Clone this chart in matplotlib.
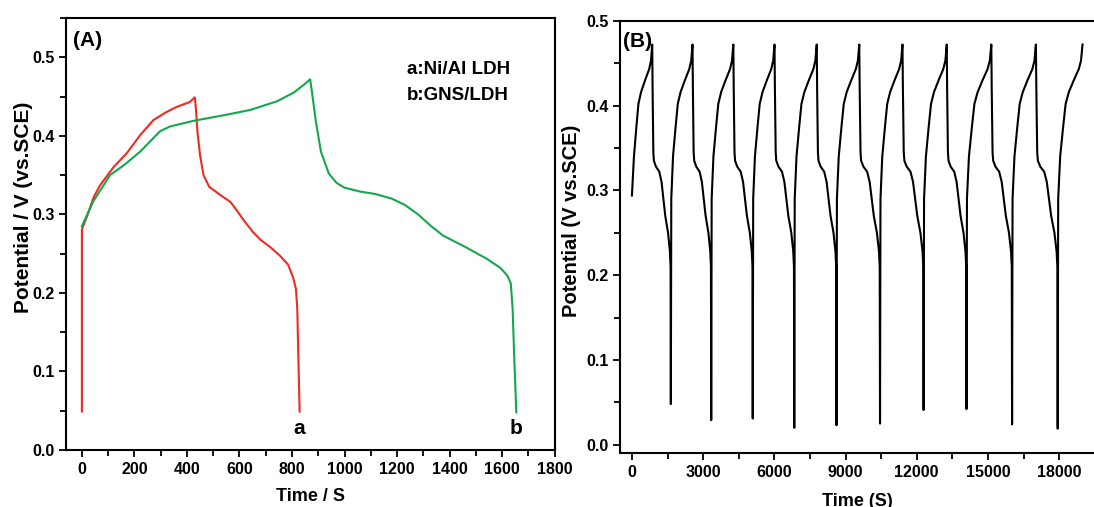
import matplotlib
matplotlib.use("Agg")
import matplotlib.pyplot as plt
from matplotlib.ticker import MultipleLocator

plt.rcParams["font.family"] = ["Liberation Sans", "DejaVu Sans"]
plt.rcParams["font.weight"] = "bold"

# ---- panel A: charge/discharge curves (time s, potential V) ----
red_t = [0, 0, 20, 45, 69, 120, 171, 222, 272, 320, 362, 410, 430, 434, 440,
         450, 463, 485, 530, 565, 590, 615, 650, 679, 722, 755, 785, 804, 815,
         820, 824, 829]
red_v = [0.049, 0.281, 0.298, 0.322, 0.337, 0.360, 0.378, 0.401, 0.420, 0.430,
         0.437, 0.443, 0.449, 0.435, 0.405, 0.375, 0.350, 0.335, 0.324, 0.316,
         0.305, 0.293, 0.278, 0.268, 0.257, 0.247, 0.236, 0.220, 0.205, 0.180,
         0.120, 0.049]

green_t = [0, 44, 107, 165, 222, 260, 298, 336, 423, 552, 641, 743, 806, 845,
           869, 875, 890, 910, 940, 970, 1000, 1060, 1117, 1180, 1230, 1280,
           1330, 1375, 1457, 1539, 1593, 1620, 1633, 1640, 1645, 1654]
green_v = [0.285, 0.317, 0.350, 0.364, 0.380, 0.393, 0.406, 0.412, 0.419, 0.427,
           0.433, 0.444, 0.455, 0.465, 0.472, 0.458, 0.420, 0.380, 0.352, 0.340,
           0.334, 0.329, 0.326, 0.320, 0.312, 0.300, 0.285, 0.273, 0.259, 0.244,
           0.232, 0.222, 0.212, 0.180, 0.128, 0.048]

legend_lines = ["a:Ni/Al LDH", "b:GNS/LDH"]

# ---- panel B: cycling, read per cycle ----
cycle_start = [0, 1640, 3341, 5091, 6840, 8618, 10454, 12290, 14096, 16018, 17940]
cycle_peak = [855, 2553, 4273, 6008, 7787, 9579, 11400, 13265, 15143, 17022, 18986]
cycle_min_v = [0.048, 0.029, 0.031, 0.020, 0.023, 0.025, 0.041, 0.042, 0.024, 0.019]
first_v = 0.294

# shape of one charge (fraction of charge time, V) and discharge, read from cycles 1-3
charge_u = [0.02, 0.10, 0.22, 0.32, 0.45, 0.65, 0.85, 0.94, 1.0]
charge_v = [0.290, 0.340, 0.375, 0.402, 0.416, 0.430, 0.443, 0.453, 0.472]
dis_u = [0.02, 0.06, 0.09, 0.20, 0.38, 0.50, 0.60, 0.70, 0.85, 0.95, 0.985]
dis_v = [0.420, 0.345, 0.335, 0.328, 0.322, 0.310, 0.290, 0.270, 0.250, 0.228, 0.210]


def build_cycles():
    ts, vs = [cycle_start[0]], [first_v]
    for i, (t0, tp) in enumerate(zip(cycle_start, cycle_peak)):
        for u, v in zip(charge_u, charge_v):
            if i == 0 and v < first_v:
                continue
            ts.append(t0 + u * (tp - t0))
            vs.append(v)
        if i + 1 < len(cycle_start):
            t1 = cycle_start[i + 1]
            for u, v in zip(dis_u, dis_v):
                ts.append(tp + u * (t1 - tp))
                vs.append(v)
            ts.append(t1)
            vs.append(cycle_min_v[i])
    return ts, vs


def style_axes(ax):
    for side in ["left", "bottom", "top", "right"]:
        ax.spines[side].set_linewidth(1.5)
    ax.tick_params(which="both", direction="out", width=1.3, labelsize=11.5,
                   top=False, right=False)
    ax.tick_params(which="major", length=5)
    ax.tick_params(which="minor", length=4)
    for lab in ax.get_xticklabels() + ax.get_yticklabels():
        lab.set_fontweight("bold")


fig = plt.figure(figsize=(10.94, 5.07), dpi=100)

ax_a = fig.add_axes([0.0607, 0.1124, 0.4463, 0.852])
ax_a.plot(red_t, red_v, color="#ee2b22", lw=1.5)
ax_a.plot(green_t, green_v, color="#12a84c", lw=1.5)
ax_a.set_xlim(-59, 1800)
ax_a.set_ylim(0, 0.55)
ax_a.xaxis.set_major_locator(MultipleLocator(200))
ax_a.xaxis.set_minor_locator(MultipleLocator(100))
ax_a.yaxis.set_major_locator(MultipleLocator(0.1))
ax_a.yaxis.set_minor_locator(MultipleLocator(0.05))
ax_a.yaxis.set_major_formatter(plt.FormatStrFormatter("%.1f"))
style_axes(ax_a)
ax_a.set_xlabel("Time / S", fontsize=13, fontweight="bold")
ax_a.set_ylabel("Potential / V (vs.SCE)", fontsize=15, fontweight="bold")
ax_a.xaxis.set_label_coords(0.5, -0.088)
ax_a.yaxis.set_label_coords(-0.068, 0.5625)
ax_a.text(0.0135, 0.947, "(A)", transform=ax_a.transAxes, fontsize=15,
          fontweight="bold", ha="left", va="center")
ax_a.text(1239, 0.485, legend_lines[0], fontsize=13.5, fontweight="bold",
          ha="left", va="center")
ax_a.text(1239, 0.451, legend_lines[1], fontsize=13.5, fontweight="bold",
          ha="left", va="center")
ax_a.text(red_t[-1], 0.028, "a", fontsize=15, fontweight="bold",
          ha="center", va="center")
ax_a.text(green_t[-1], 0.028, "b", fontsize=15, fontweight="bold",
          ha="center", va="center")

ax_b = fig.add_axes([0.567, 0.106, 0.433, 0.853])
bt, bv = build_cycles()
ax_b.plot(bt, bv, color="black", lw=1.5)
ax_b.set_xlim(-490, 19470)
ax_b.set_ylim(-0.01, 0.5)
ax_b.xaxis.set_major_locator(MultipleLocator(3000))
ax_b.xaxis.set_minor_locator(MultipleLocator(1500))
ax_b.yaxis.set_major_locator(MultipleLocator(0.1))
ax_b.yaxis.set_minor_locator(MultipleLocator(0.05))
ax_b.yaxis.set_major_formatter(plt.FormatStrFormatter("%.1f"))
style_axes(ax_b)
ax_b.spines["right"].set_visible(False)
ax_b.set_xlabel("Time (S)", fontsize=13, fontweight="bold")
ax_b.set_ylabel("Potential (V vs.SCE)", fontsize=14.5, fontweight="bold")
ax_b.xaxis.set_label_coords(0.5, -0.0925)
ax_b.yaxis.set_label_coords(-0.084, 0.537)
ax_b.text(0.0063, 0.952, "(B)", transform=ax_b.transAxes, fontsize=15,
          fontweight="bold", ha="left", va="center")

fig.savefig("out.png", dpi=100)
